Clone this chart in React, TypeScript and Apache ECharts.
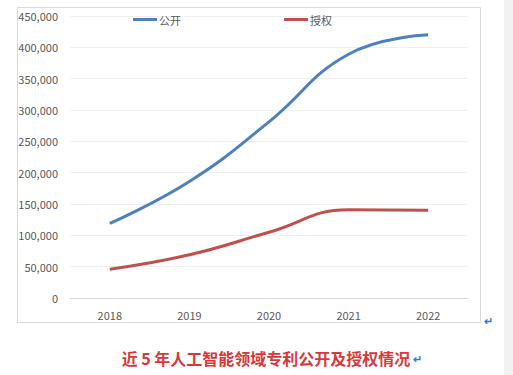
import React, { useEffect, useRef } from "react";
import * as echarts from "echarts";

const years = ["2018", "2019", "2020", "2021", "2022"];
const publicCounts = [119000, 186000, 281000, 389000, 420000];
const grantCounts = [46000, 69000, 105000, 141000, 140000];
const seriesNames = ["公开", "授权"];
const caption = "近 5 年人工智能领域专利公开及授权情况";

export default function App() {
  const ref = useRef<HTMLDivElement>(null);
  useEffect(() => {
    const chart = echarts.init(ref.current!, null, { renderer: "svg" });
    const font = "'Noto Sans CJK SC', 'Noto Sans', sans-serif";
    chart.setOption({
      animation: false,
      backgroundColor: "#ffffff",
      textStyle: { fontFamily: font },
      legend: {
        left: 128,
        top: 9,
        itemGap: 103,
        itemWidth: 24,
        itemHeight: 3,
        icon: "rect",
        textStyle: { color: "#595959", fontSize: 11, padding: [0, 0, 0, -3] },
        data: seriesNames,
      },
      grid: { left: 70, right: 45, top: 16, bottom: 77 },
      xAxis: {
        type: "category",
        data: years,
        boundaryGap: true,
        axisLine: { lineStyle: { color: "#d9d9d9", width: 1 } },
        axisTick: { show: false },
        axisLabel: { color: "#595959", fontSize: 11, margin: 11 },
      },
      yAxis: {
        type: "value",
        min: 0,
        max: 450000,
        interval: 50000,
        axisLine: { show: false },
        axisTick: { show: false },
        splitLine: { lineStyle: { color: "#f0f0f0", width: 1 } },
        axisLabel: {
          color: "#595959",
          fontSize: 11,
          margin: 12,
          formatter: (v: number) => v.toLocaleString("en-US"),
        },
      },
      series: [
        {
          name: seriesNames[0],
          type: "line",
          data: publicCounts,
          smooth: 0.45,
          symbol: "none",
          color: "#4f81bd",
          lineStyle: { width: 3, color: "#4f81bd" },
        },
        {
          name: seriesNames[1],
          type: "line",
          data: grantCounts,
          smooth: 0.45,
          symbol: "none",
          color: "#c0504d",
          lineStyle: { width: 3, color: "#c0504d" },
        },
      ],
      graphic: [
        {
          type: "rect",
          silent: true,
          shape: { x: 17.5, y: 7.5, width: 463, height: 315 },
          style: { fill: "none", stroke: "#d9d9d9", lineWidth: 1 },
          z: -1,
        },
        {
          type: "rect",
          silent: true,
          shape: { x: 504, y: 0, width: 9, height: 375 },
          style: { fill: "#f2f2f2" },
        },
        {
          type: "text",
          x: 484,
          y: 314,
          style: { text: "↵", fill: "#2f7bd6", font: "bold 11px " + font },
        },
        {
          type: "text",
          x: 266,
          y: 358,
          style: {
            text: caption,
            fill: "#d9383a",
            font: "bold 16px " + font,
            align: "center",
            verticalAlign: "middle",
          },
        },
        {
          type: "text",
          x: 413,
          y: 352,
          style: { text: "↵", fill: "#2f7bd6", font: "bold 11px " + font },
        },
      ],
    });
    return () => chart.dispose();
  }, []);
  return (
    <div
      ref={ref}
      style={{ position: "fixed", left: 0, top: 0, width: 513, height: 375 }}
    />
  );
}
